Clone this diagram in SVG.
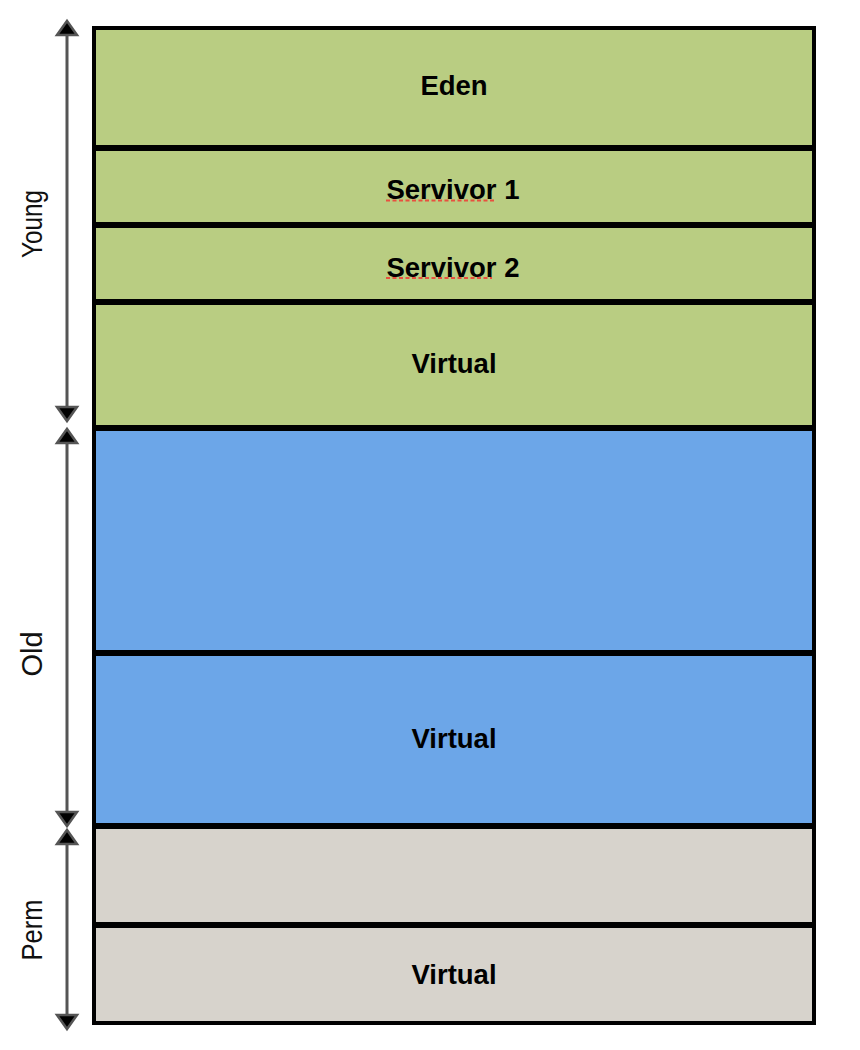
<svg xmlns="http://www.w3.org/2000/svg" width="860" height="1050" viewBox="0 0 860 1050">
<style>
.band{stroke:#000;stroke-width:4}
.young{fill:#B9CD82}
.old{fill:#6CA6E8}
.perm{fill:#D7D3CC}
.lbl{font-family:"Liberation Sans",Arial,sans-serif;font-weight:700;font-size:27.5px;fill:#000;text-anchor:middle}
.side{font-family:"Liberation Sans",Arial,sans-serif;font-size:29px;fill:#111;text-anchor:middle}
.dim{stroke:#555;stroke-width:3;fill:none;marker-start:url(#ah);marker-end:url(#ah)}
.spell{stroke:#E8503F;stroke-width:2.2;stroke-dasharray:4 2.5;fill:none}
</style>
<defs>
<marker id="ah" markerUnits="userSpaceOnUse" markerWidth="20" markerHeight="24" viewBox="0 0 20 24" refX="2" refY="12" orient="auto-start-reverse" overflow="visible">
<path d="M2,2 L16,12 L2,22 Z" fill="#000" stroke="#555" stroke-width="2.5" stroke-linejoin="miter"/>
</marker>
</defs>
<g id="eden"><rect class="band young" x="94" y="28" width="720" height="119"/><text class="lbl" x="454" y="95">Eden</text></g>
<g id="survivor1"><rect class="band young" x="94" y="149" width="720" height="75"/><text class="lbl" x="453" y="199">Servivor 1</text><line class="spell" x1="386" y1="200.5" x2="496" y2="200.5"/></g>
<g id="survivor2"><rect class="band young" x="94" y="226" width="720" height="75"/><text class="lbl" x="453" y="277">Servivor 2</text><line class="spell" x1="386" y1="278" x2="492" y2="278"/></g>
<g id="young-virtual"><rect class="band young" x="94" y="303" width="720" height="124"/><text class="lbl" x="454" y="373">Virtual</text></g>
<g id="old"><rect class="band old" x="94" y="429" width="720" height="223"/></g>
<g id="old-virtual"><rect class="band old" x="94" y="654" width="720" height="171"/><text class="lbl" x="454" y="748">Virtual</text></g>
<g id="perm"><rect class="band perm" x="94" y="827" width="720" height="97"/></g>
<g id="perm-virtual"><rect class="band perm" x="94" y="926" width="720" height="97"/><text class="lbl" x="454" y="984">Virtual</text></g>
<g id="connectors">
<line class="dim" x1="67" y1="35" x2="67" y2="407"/>
<line class="dim" x1="67" y1="443" x2="67" y2="812"/>
<line class="dim" x1="67" y1="844" x2="67" y2="1015"/>
</g>
<g id="side-labels">
<text class="side" x="41.5" y="224" transform="rotate(-90 41.5 224)" textLength="68" lengthAdjust="spacingAndGlyphs">Young</text>
<text class="side" x="41.5" y="654" transform="rotate(-90 41.5 654)">Old</text>
<text class="side" x="41.5" y="930" transform="rotate(-90 41.5 930)" textLength="61" lengthAdjust="spacingAndGlyphs">Perm</text>
</g>
</svg>
